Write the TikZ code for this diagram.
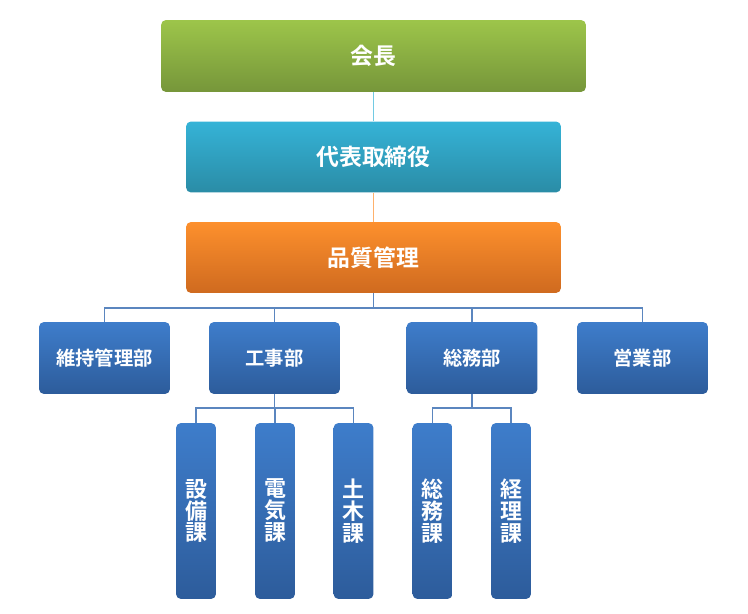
\documentclass[tikz,border=0pt]{standalone}
\usepackage{fontspec}
\newfontfamily\jpfont[BoldFont={Noto Sans CJK JP Bold}]{Noto Sans CJK JP}
\usetikzlibrary{calc}
\definecolor{kaiTop}{HTML}{9DC54A}
\definecolor{kaiBot}{HTML}{76963A}
\definecolor{daiTop}{HTML}{35B3D7}
\definecolor{daiBot}{HTML}{2A8CA6}
\definecolor{hinTop}{HTML}{FD902D}
\definecolor{hinBot}{HTML}{CF6A1F}
\definecolor{buTop}{HTML}{3E7DCB}
\definecolor{buBot}{HTML}{2D5C9B}
\definecolor{treeLine}{HTML}{5B86BF}
\tikzset{
  box/.style={rounded corners=0.1cm, text=white, inner sep=0pt, align=center},
  topbox/.style={box, minimum width=8.5cm, minimum height=1.44cm, top color=kaiTop, bottom color=kaiBot, font=\jpfont\bfseries\fontsize{13}{15}\selectfont},
  midbox/.style={box, minimum width=7.5cm, minimum height=1.42cm, font=\jpfont\bfseries\fontsize{13}{15}\selectfont},
  bubox/.style={box, minimum width=2.62cm, minimum height=1.44cm, top color=buTop, bottom color=buBot, font=\jpfont\bfseries\fontsize{11}{13}\selectfont},
  kabox/.style={box, minimum width=0.8cm, minimum height=3.52cm, top color=buTop, bottom color=buBot, font=\jpfont\bfseries\fontsize{12.5}{12.5}\selectfont},
  link/.style={line width=0.7pt, color=treeLine}
}
\begin{document}
\begin{tikzpicture}[x=0.02cm, y=-0.02cm]
			%%%%% START %%%%%
			\useasboundingbox (0, 0) rectangle (748, 614);
			
			\node[topbox] (kaicho) at (373.5, 56) {会長};
			\node[midbox, top color=daiTop, bottom color=daiBot] (daihyo) at (373.5, 157) {代表取締役};
			\node[midbox, top color=hinTop, bottom color=hinBot] (hinshitsu) at (373.5, 257.5) {品質管理};
			
			\node[bubox] (iji) at (104.5, 358) {維持管理部};
			\node[bubox] (koji) at (274.5, 358) {工事部};
			\node[bubox] (somu) at (472, 358) {総務部};
			\node[bubox] (eigyo) at (642.5, 358) {営業部};
			
			\node[kabox] (setsubi) at (196, 511) {設\\備\\課};
			\node[kabox] (denki) at (275, 511) {電\\気\\課};
			\node[kabox] (doboku) at (353.5, 511) {土\\木\\課};
			\node[kabox] (somuka) at (432.5, 511) {総\\務\\課};
			\node[kabox] (keiri) at (511, 511) {経\\理\\課};
			
			\coordinate (bus) at (373.5, 308);
			\coordinate (kojibus) at (274.5, 408);
			\coordinate (somubus) at (472, 408);
			
			\draw[line width=0.7pt, color=daiTop!70!white] (kaicho.south) -- (daihyo.north);
			\draw[line width=0.7pt, color=hinTop!70!white] (daihyo.south) -- (hinshitsu.north);
			
			\draw[link] (hinshitsu.south) -- (bus);
			\draw[link] (bus) -| (iji.north);
			\draw[link] (bus) -| (koji.north);
			\draw[link] (bus) -| (somu.north);
			\draw[link] (bus) -| (eigyo.north);
			
			\draw[link] (koji.south) -- (kojibus);
			\draw[link] (kojibus) -| (setsubi.north);
			\draw[link] (kojibus) -| (denki.north);
			\draw[link] (kojibus) -| (doboku.north);
			
			\draw[link] (somu.south) -- (somubus);
			\draw[link] (somubus) -| (somuka.north);
			\draw[link] (somubus) -| (keiri.north);
			%%%%% END %%%%%
\end{tikzpicture}
\end{document}
